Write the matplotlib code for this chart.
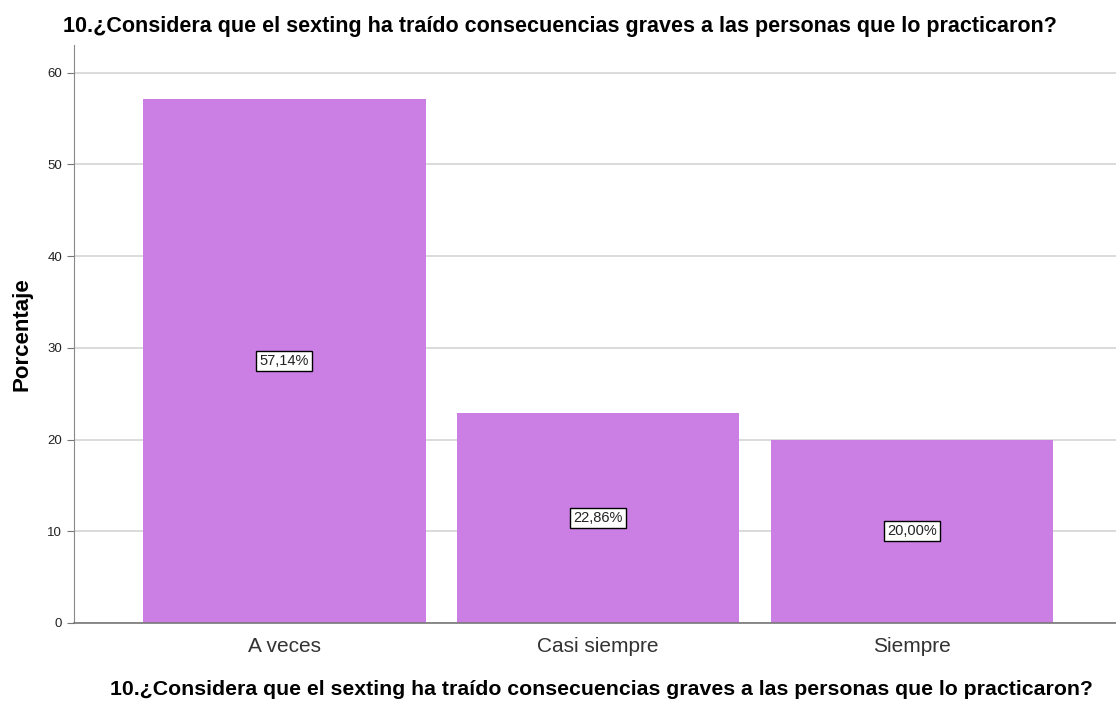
import matplotlib
matplotlib.use("Agg")
import matplotlib.pyplot as plt

plt.rcParams['font.family'] = ['Liberation Sans', 'DejaVu Sans']

# datos
categorias = ['A veces', 'Casi siempre', 'Siempre']
porcentajes = [57.14, 22.86, 20.00]
etiquetas = ['57,14%', '22,86%', '20,00%']
pregunta = '10.¿Considera que el sexting ha traído consecuencias graves a las personas que lo practicaron?'


def main():
    fig = plt.figure(figsize=(11.16, 7.03), dpi=100)
    ax = fig.add_axes([0.0663, 0.1138, 0.9337, 0.822])

    x = range(len(categorias))
    ax.bar(x, porcentajes, width=0.9, color='#cb7ee3', zorder=2)

    for i, v in enumerate(porcentajes):
        ax.text(i, v / 2, etiquetas[i], ha='center', va='center', fontsize=10.5,
                color='#222222', zorder=3,
                bbox=dict(boxstyle='square,pad=0.22', facecolor='white',
                          edgecolor='black', linewidth=1))

    ax.set_xlim(-0.67, 2.65)
    ax.set_ylim(0, 63)
    ax.set_yticks([0, 10, 20, 30, 40, 50, 60])
    ax.set_xticks(list(x))
    ax.set_xticklabels(categorias, fontsize=15, color='#333333')
    ax.tick_params(axis='y', labelsize=9.5, length=5, color='#777777', labelcolor='#222222')
    ax.tick_params(axis='x', length=0, pad=10)
    ax.yaxis.grid(True, color='#d4d4d4', linewidth=1.2, zorder=0)
    ax.set_axisbelow(True)

    for s in ['top', 'right']:
        ax.spines[s].set_visible(False)
    ax.spines['left'].set_color('#888888')
    ax.spines['bottom'].set_color('#777777')
    ax.spines['bottom'].set_linewidth(1.2)

    ax.set_ylabel('Porcentaje', fontsize=16, fontweight='bold')
    ax.yaxis.set_label_coords(-0.04, 0.5)
    fig.text(0.539, 0.0185, pregunta, ha='center', va='center', fontsize=15.3,
             fontweight='bold')
    fig.text(0.502, 0.9616, pregunta, ha='center', va='center', fontsize=15.5,
             fontweight='bold')

    fig.savefig('out.png', dpi=100)


if __name__ == "__main__":
    main()
